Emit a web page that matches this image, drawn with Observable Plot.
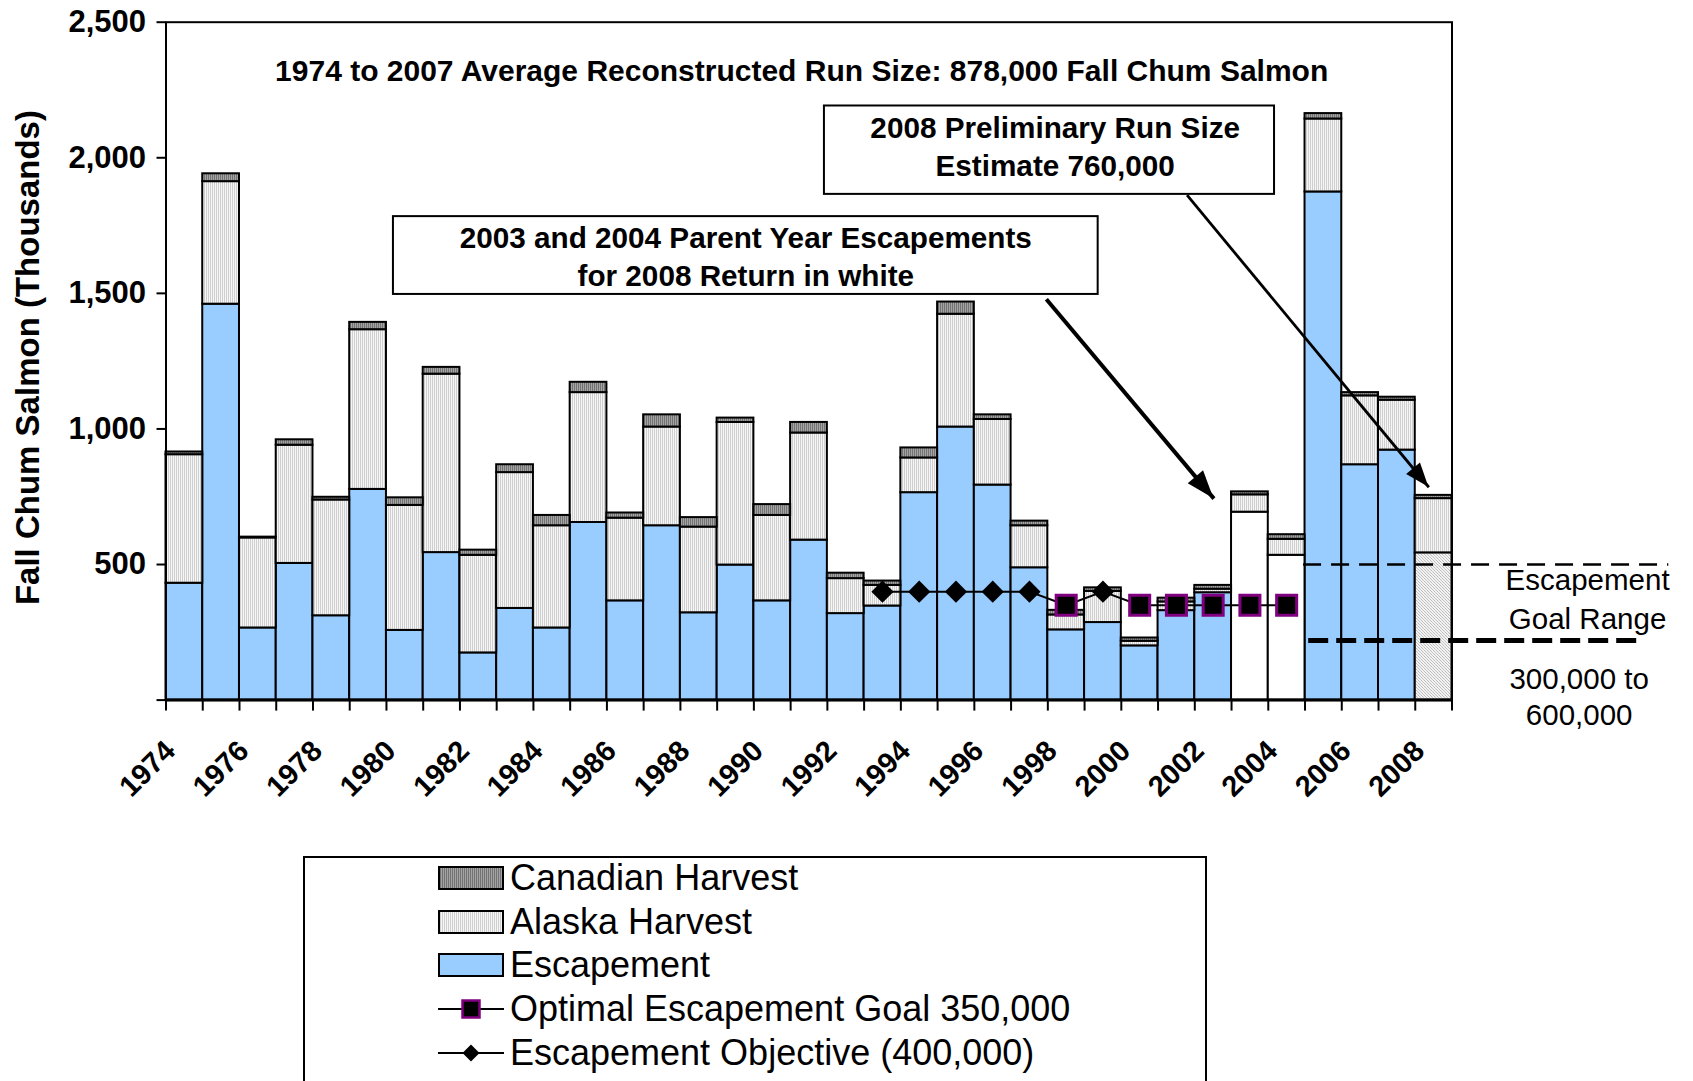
<!DOCTYPE html>
<html>
<head>
<meta charset="utf-8">
<script src="https://cdn.jsdelivr.net/npm/d3@7"></script>
<script src="https://cdn.jsdelivr.net/npm/@observablehq/plot@0.6"></script>
<style>
  body { margin: 0; background: #fff; font-family: 'Liberation Sans', Arial, sans-serif; }
  #chart svg { display: block; }
  .legend { margin-left: 303px; width: 904px; height: 240px; border: 2px solid #000; box-sizing: border-box;
            padding-left: 133px; display: flex; flex-direction: column; }
  .legend .inner { margin-top: -2px; }
  .row { height: 43.8px; display: flex; align-items: center; font-size: 36px; color: #000; white-space: nowrap; }
  .row svg { margin-right: 6px; flex: none; }
</style>
</head>
<body>
<svg width="0" height="0" style="position:absolute">
  <defs>
    <pattern id="alaskaPat" width="2" height="2" patternUnits="userSpaceOnUse">
      <rect width="2" height="2" fill="#f6f6f6"/><rect width="1" height="2" fill="#cfcfcf"/>
    </pattern>
    <pattern id="canPat" width="2" height="2" patternUnits="userSpaceOnUse">
      <rect width="2" height="2" fill="#a4a4a4"/><rect width="1" height="2" fill="#737373"/>
    </pattern>
    <pattern id="prelimPat" width="3" height="3" patternUnits="userSpaceOnUse">
      <rect width="3" height="3" fill="#f2f2f2"/><rect x="0" y="0" width="1" height="1" fill="#bdbdbd"/>
      <rect x="1" y="1" width="1" height="1" fill="#c8c8c8"/><rect x="2" y="2" width="1" height="1" fill="#bdbdbd"/>
    </pattern>
  </defs>
</svg>
<div id="chart"></div>
<div class="legend" id="legend"><div class="inner" id="legendInner"></div></div>
<script>
// ---------- data (thousands of fish) ----------
const years = [1974,1975,1976,1977,1978,1979,1980,1981,1982,1983,1984,1985,1986,1987,1988,1989,1990,1991,
               1992,1993,1994,1995,1996,1997,1998,1999,2000,2001,2002,2003,2004,2005,2006,2007,2008];
const escapement = [431,1460,266,504,311,777,257,544,174,338,266,655,366,643,322,498,366,590,
                    319,347,765,1007,793,488,259,286,200,330,396,693,534,1874,868,922,543];
const alaskaHarvest = [474,452,332,436,427,589,461,658,360,501,377,479,305,364,316,526,315,395,
                       129,76,128,416,242,155,55,115,17,32,13,64,59,269,254,184,200];
const canadianHarvest = [10,29,3,20,10,27,28,25,19,29,38,38,19,45,35,16,40,39,
                         20,16,37,45,17,17,17,13,12,14,14,11,17,20,12,11,12];
const parentYears = [2003, 2004];
const preliminaryYear = 2008;
const objectiveYears = [1993, 1994, 1995, 1996, 1997, 1999];
const objectiveValue = 400;
const goalYears = [1998, 2000, 2001, 2002, 2003, 2004];
const goalValue = 350;
const goalRangeDrawn = [500, 220];
const yTicks = [0, 500, 1000, 1500, 2000, 2500];
const labelYears = [1974,1976,1978,1980,1982,1984,1986,1988,1990,1992,1994,1996,1998,2000,2002,2004,2006,2008];
const seriesNames = ["Canadian Harvest", "Alaska Harvest", "Escapement",
                     "Optimal Escapement Goal 350,000", "Escapement Objective (400,000)"];
const yTitle = "Fall Chum Salmon (Thousands)";
const mainTitle = "1974 to 2007 Average Reconstructed Run Size: 878,000 Fall Chum Salmon";

// ---------- annotations (in data units) ----------
const boxes = [
  {x1: 1979.69, x2: 1998.87, y1: 1496, y2: 1783, cx: 1989.28, cy: 1643,
   text: "2003 and 2004 Parent Year Escapements\nfor 2008 Return in white"},
  {x1: 1991.42, x2: 2003.67, y1: 1865, y2: 2191, cx: 1997.7, cy: 2049,
   text: "2008 Preliminary Run Size\nEstimate 760,000"}
];
const arrows = [
  {x1: 1997.46, y1: 1478, x2: 2002.02, y2: 743, w: 4, len: 28, half: 10},
  {x1: 2001.29, y1: 1862, x2: 2007.87, y2: 785, w: 2.8, len: 24, half: 9}
];
const rangeLines = [
  {v: goalRangeDrawn[0], x1: 2004.46, x2: 2014.4, w: 2.5, dash: "18,10"},
  {v: goalRangeDrawn[1], x1: 2004.6, x2: 2013.7, w: 5, dash: "20,8"}
];
const rangeLabels = [
  {x: 2012.19, y: 381, t: "Escapement\nGoal Range", lh: 1.32},
  {x: 2011.96, y: 16, t: "300,000 to\n600,000", lh: 1.22}
];

// ---------- derived tables ----------
const rows = years.map((year, i) => ({year, esc: escapement[i], ak: alaskaHarvest[i], ca: canadianHarvest[i]}));
const seg = (key, base) => rows.map(r => ({year: r.year, x1: r.year - 0.5, x2: r.year + 0.5,
                                           y1: base(r), y2: base(r) + r[key]}));
const escSeg = seg("esc", () => 0);
const akSeg = seg("ak", r => r.esc);
const caSeg = seg("ca", r => r.esc + r.ak);
const kind = d => parentYears.includes(d.year) ? "parent" : d.year === preliminaryYear ? "prelim" : "normal";
const pts = [...objectiveYears.map(year => ({year, value: objectiveValue, k: "obj"})),
             ...goalYears.map(year => ({year, value: goalValue, k: "goal"}))].sort((a, b) => a.year - b.year);
const tickBounds = [...years.map(y => y - 0.5), years[years.length - 1] + 0.5];

const bar = {x1: "x1", x2: "x2", y1: "y1", y2: "y2", stroke: "black", strokeWidth: 2};

const chart = Plot.plot({
  width: 1693,
  height: 856,
  marginLeft: 165.5,
  marginRight: 241.5,
  marginTop: 21.7,
  marginBottom: 156.4,
  x: {domain: [1973.5, 2008.5]},
  y: {domain: [0, 2500]},
  style: {fontFamily: "'Liberation Sans', Arial, sans-serif", background: "white", color: "black"},
  marks: [
    Plot.rect(escSeg.filter(d => kind(d) === "normal"), {...bar, fill: "#99CCFF"}),
    Plot.rect(escSeg.filter(d => kind(d) === "parent"), {...bar, fill: "white"}),
    Plot.rect(escSeg.filter(d => kind(d) === "prelim"), {...bar, fill: "url(#prelimPat)"}),
    Plot.rect(akSeg, {...bar, fill: "url(#alaskaPat)"}),
    Plot.rect(caSeg, {...bar, fill: "url(#canPat)"}),
    Plot.frame({stroke: "black", strokeWidth: 2}),
    Plot.ruleY([0], {stroke: "black", strokeWidth: 3}),
    ...rangeLines.map(r => Plot.ruleY([r.v], {x1: () => r.x1, x2: () => r.x2, stroke: "black",
                                               strokeWidth: r.w, strokeDasharray: r.dash})),
    Plot.line(pts, {x: "year", y: "value", stroke: "black", strokeWidth: 2}),
    Plot.dot(pts.filter(d => d.k === "obj"), {x: "year", y: "value", symbol: "diamond2", r: 10,
                                               fill: "black", stroke: "none"}),
    Plot.dot(pts.filter(d => d.k === "goal"), {x: "year", y: "value", symbol: "square", r: 11.3,
                                                fill: "black", stroke: "#800080", strokeWidth: 3}),
    Plot.axisY(yTicks, {tickSize: 9, tickPadding: 11, strokeWidth: 2, label: null,
                        tickFormat: d => d === 0 ? "" : d3.format(",")(d), fontSize: 31, fontWeight: "bold"}),
    Plot.axisX(tickBounds, {tickSize: 11, strokeWidth: 2, label: null, tickFormat: () => ""}),
    Plot.text(labelYears, {x: d => d, y: () => 0, text: d => String(d), dx: -14, dy: 46, rotate: -45,
                           textAnchor: "end", lineAnchor: "middle", fontSize: 29, fontWeight: "bold"}),
    Plot.text([yTitle], {frameAnchor: "left", textAnchor: "middle", dx: -137.5, dy: -3.6, rotate: -90,
                         fontSize: 33, fontWeight: "bold"}),
    Plot.text([mainTitle], {x: () => 1990.8, y: () => 2318, fontSize: 30, fontWeight: "bold"}),
    Plot.rect(boxes, {x1: "x1", x2: "x2", y1: "y1", y2: "y2", fill: "white", stroke: "black", strokeWidth: 2}),
    ...boxes.map(b => Plot.text([b], {x: "cx", y: "cy", text: "text", fontSize: 29.7, fontWeight: "bold",
                                      lineHeight: 1.3, lineAnchor: "middle"})),
    ...arrows.map(a => Plot.link([a], {x1: "x1", y1: "y1", x2: "x2", y2: "y2", stroke: "black", strokeWidth: a.w})),
    ...rangeLabels.map(l => Plot.text([l], {x: "x", y: "y", text: "t", fontSize: 29.5, lineHeight: l.lh,
                                            lineAnchor: "middle"}))
  ]
});

// filled arrowheads, positioned through the plot's own scales
const sx = chart.scale("x"), sy = chart.scale("y");
for (const a of arrows) {
  const px1 = sx.apply(a.x1), py1 = sy.apply(a.y1), px2 = sx.apply(a.x2), py2 = sy.apply(a.y2);
  const L = Math.hypot(px2 - px1, py2 - py1), ux = (px2 - px1) / L, uy = (py2 - py1) / L;
  const bx = px2 - ux * a.len, by = py2 - uy * a.len;
  const p = [[px2, py2], [bx - uy * a.half, by + ux * a.half], [bx + uy * a.half, by - ux * a.half]];
  d3.select(chart).append("polygon").attr("points", p.map(q => q.join(",")).join(" ")).attr("fill", "black");
}
document.getElementById("chart").append(chart);

// ---------- legend ----------
const swatches = [
  () => `<rect x="1" y="1" width="64" height="22" fill="url(#canPat)" stroke="black" stroke-width="2"/>`,
  () => `<rect x="1" y="1" width="64" height="22" fill="url(#alaskaPat)" stroke="black" stroke-width="2"/>`,
  () => `<rect x="1" y="1" width="64" height="22" fill="#99CCFF" stroke="black" stroke-width="2"/>`,
  () => `<line x1="0" x2="66" y1="12" y2="12" stroke="black" stroke-width="2"/>
        <rect x="24.5" y="3.5" width="17" height="17" fill="black" stroke="#800080" stroke-width="2.5"/>`,
  () => `<line x1="0" x2="66" y1="12" y2="12" stroke="black" stroke-width="2"/>
        <path d="M33,3.5 L41.5,12 L33,20.5 L24.5,12 Z" fill="black"/>`
];
const legendInner = document.getElementById("legendInner");
seriesNames.forEach((name, i) => {
  const row = document.createElement("div");
  row.className = "row";
  row.innerHTML = `<svg width="66" height="24">${swatches[i]()}</svg><span>${name}</span>`;
  legendInner.append(row);
});
</script>
</body>
</html>
